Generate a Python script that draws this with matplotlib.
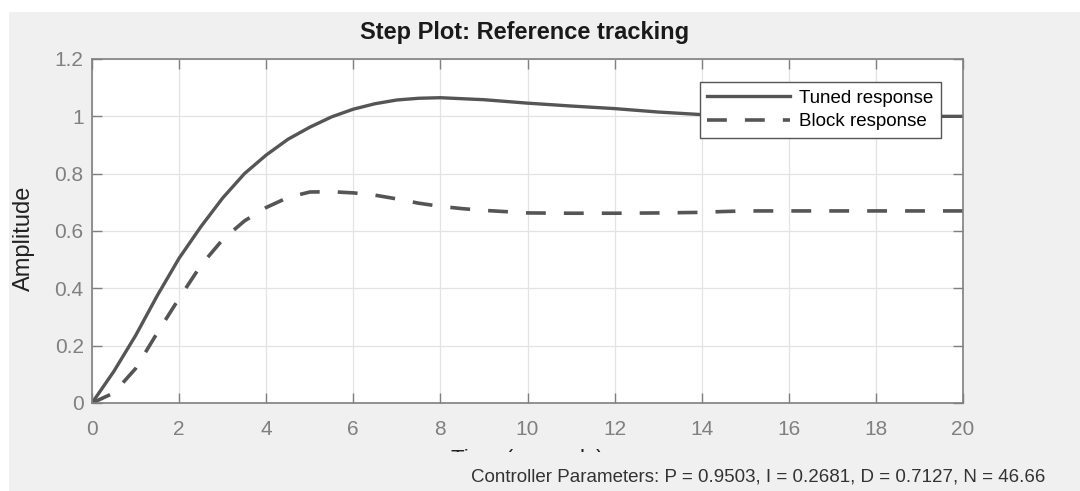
import matplotlib.pyplot as plt
from matplotlib.patches import Rectangle

# step response
t_tuned = [0, 0.5, 1, 1.5, 2, 2.5, 3, 3.5, 4, 4.5, 5, 5.5, 6, 6.5, 7, 7.5, 8,
           9, 10, 11, 12, 13, 14, 15, 16, 17, 18, 19, 20]
y_tuned = [0, 0.11, 0.235, 0.375, 0.505, 0.615, 0.715, 0.80, 0.865, 0.92, 0.962,
           0.998, 1.025, 1.044, 1.057, 1.063, 1.065, 1.058, 1.046, 1.036,
           1.027, 1.015, 1.006, 1.001, 1.0, 1.0, 1.0, 1.0, 1.0]

t_block = [0, 0.5, 1, 1.5, 2, 2.5, 3, 3.5, 4, 4.5, 5, 5.5, 6, 6.5, 7, 7.5, 8,
           8.5, 9, 10, 11, 12, 13, 14, 14.5, 15, 16, 17, 18, 19, 20]
y_block = [0, 0.035, 0.12, 0.245, 0.365, 0.48, 0.57, 0.635, 0.682, 0.717, 0.736,
           0.737, 0.733, 0.725, 0.712, 0.697, 0.686, 0.678, 0.672, 0.663, 0.662,
           0.662, 0.663, 0.665, 0.668, 0.670, 0.670, 0.670, 0.670, 0.670, 0.670]

series_names = ["Tuned response", "Block response"]
x_ticks = [0, 2, 4, 6, 8, 10, 12, 14, 16, 18, 20]
y_ticks = [0, 0.2, 0.4, 0.6, 0.8, 1, 1.2]
params_text = "Controller Parameters: P = 0.9503, I = 0.2681, D = 0.7127, N = 46.66"

plt.rcParams['font.family'] = ['Liberation Sans', 'DejaVu Sans']

W, H = 1080, 491
fig = plt.figure(figsize=(W / 100, H / 100), dpi=100)
fig.patch.set_facecolor('white')
panel = '#f0f0f0'
fig.patches.append(Rectangle((9 / W, 0), 1 - 9 / W, 1 - 12 / H, transform=fig.transFigure,
                             facecolor=panel, edgecolor='none', zorder=-1))

ax = fig.add_axes([92 / W, 1 - 403 / H, (963 - 92) / W, (403 - 59) / H])
line_col = '#555555'
ax.plot(t_tuned, y_tuned, color=line_col, lw=2.4, label=series_names[0])
ax.plot(t_block, y_block, color=line_col, lw=2.6, ls=(0, (5.5, 5)), label=series_names[1])

ax.set_xlim(0, 20)
ax.set_ylim(0, 1.2)
ax.set_xticks(x_ticks)
ax.set_yticks(y_ticks)
ax.set_xticklabels([str(v) for v in x_ticks])
ax.set_yticklabels(['0', '0.2', '0.4', '0.6', '0.8', '1', '1.2'])
ax.tick_params(direction='in', length=7, width=1, colors='#808080', labelsize=15,
               top=True, right=True)
ax.tick_params(axis='x', pad=12)
ax.tick_params(axis='y', pad=6)
for s in ax.spines.values():
    s.set_color('#808080')
    s.set_linewidth(1.2)
ax.grid(True, color='#e3e3e3', lw=0.9)
ax.set_axisbelow(True)

ax.set_ylabel("Amplitude", fontsize=17, color='#222222')
ax.yaxis.set_label_coords(-57 / 871, 0.48)
ax.set_xlabel("Time (seconds)", fontsize=16, color='#222222')
ax.xaxis.set_label_coords(0.5, -46 / 344)

fig.text(525 / W, 1 - 33 / H, "Step Plot: Reference tracking", fontsize=17,
         fontweight='bold', ha='center', va='center', color='#1a1a1a')

leg = ax.legend(loc='upper right', bbox_to_anchor=((941 - 92) / 871, (403 - 82) / 344),
                borderaxespad=0, fancybox=False, framealpha=1, edgecolor='#555555',
                fontsize=13.5, handlelength=4.4, handletextpad=0.5, labelspacing=0.35,
                borderpad=0.4)
leg.get_frame().set_linewidth(1.0)

# bottom panel hides most of the x label, like in the original screenshot
fig.patches.append(Rectangle((9 / W, 0), 1 - 9 / W, (H - 452) / H, transform=fig.transFigure,
                             facecolor=panel, edgecolor='none', zorder=5))
fig.text(1045 / W, 1 - 477 / H, params_text, fontsize=13.5, ha='right', va='center',
         color='#333333', zorder=6)

plt.savefig("out.png", dpi=100, facecolor=fig.get_facecolor())
